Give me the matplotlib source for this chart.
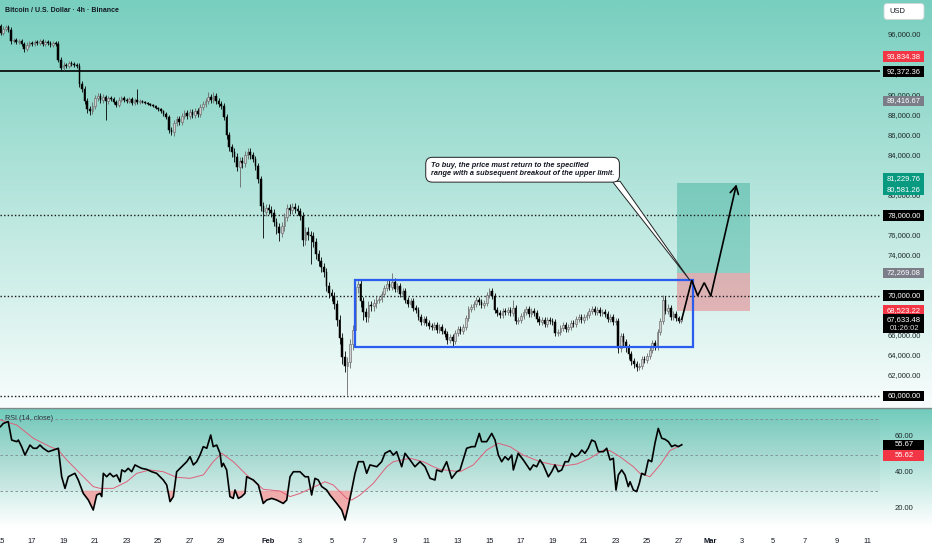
import datetime as dt
import numpy as np
import matplotlib
matplotlib.use("Agg")
import matplotlib.pyplot as plt
from matplotlib import transforms
from matplotlib.patches import Rectangle, Polygon, FancyBboxPatch

plt.rcParams['font.family'] = ['Liberation Sans', 'DejaVu Sans']

T0 = dt.datetime(2026, 1, 15)


def days(m, d, h=0):
    return (dt.datetime(2026, m, d, h) - T0).total_seconds() / 86400.0


# ---------------- data (prices in thousand USD, 4h candles from Jan 15 00:00) -------------
first_open = 96.9
closes = [
    96.2, 96.6, 96.8, 96.5, 95.4, 95.5,
    95.3, 95.4, 95.1, 94.6, 95.0, 95.2,
    95.1, 95.3, 95.2, 95.4, 95.1, 95.3,
    95.2, 95.0, 95.2, 95.1, 93.5, 92.7,
    93.0, 92.9, 93.2, 93.1, 93.0, 92.9,
    91.1, 90.6, 89.4, 88.6, 88.4, 88.9,
    89.7, 89.9, 89.5, 89.8, 89.4, 89.7,
    89.6, 89.3, 89.0, 89.5, 89.7, 89.5,
    89.4, 89.6, 89.2, 89.5, 89.3, 89.4,
    89.3, 89.2, 89.1, 89.0, 88.9, 88.7,
    88.6, 88.4, 88.1, 87.8, 86.5, 86.3,
    87.2, 87.6, 87.3, 87.9, 88.2, 87.9,
    88.3, 88.0, 88.4, 88.1, 88.8, 89.1,
    89.4, 89.8, 89.5, 89.9, 89.4, 89.1,
    88.9, 87.8, 86.0, 84.8, 84.3, 83.8,
    82.8, 83.4, 83.2, 84.0, 84.3, 84.0,
    83.6, 82.9, 81.6, 78.9, 78.3, 78.7,
    78.5, 78.2, 77.3, 76.8, 76.3, 76.9,
    77.8, 78.7, 78.5, 78.8, 78.6, 78.4,
    77.9, 75.6, 76.4, 76.1, 76.0, 75.4,
    74.2, 73.5, 72.9, 72.4, 71.0, 70.3,
    70.0, 69.2, 67.6, 65.8, 63.9, 63.0,
    63.4, 65.2, 66.6, 70.9, 71.2, 69.5,
    68.4, 67.9, 69.1, 69.0, 69.3, 69.6,
    69.7, 70.2, 70.8, 71.2, 70.9, 71.4,
    70.7, 71.0, 70.2, 70.5, 69.6, 69.2,
    69.5, 68.8, 68.6, 67.9, 67.4, 67.7,
    67.3, 67.0, 66.9, 67.1, 66.6, 66.9,
    66.5, 66.2, 65.6, 65.9, 65.5, 66.3,
    66.7, 66.5, 66.9, 67.8, 68.7, 68.9,
    69.2, 69.6, 69.4, 69.1, 69.3, 70.1,
    70.5, 70.0, 68.6, 68.3, 68.1, 68.5,
    68.4, 68.6, 68.3, 68.8, 67.5, 67.6,
    68.0, 68.4, 68.7, 68.2, 68.5, 68.3,
    67.7, 67.4, 67.6, 67.2, 67.6, 67.5,
    67.4, 66.3, 66.4, 66.8, 67.1, 66.7,
    66.9, 67.3, 67.2, 67.7, 67.9, 67.6,
    67.9, 68.1, 68.5, 68.7, 68.4, 68.6,
    68.3, 68.4, 68.2, 67.7, 67.9, 67.4,
    67.5, 64.8, 66.0, 65.4, 64.9, 64.2,
    63.5, 63.2, 62.9, 63.0, 63.7, 63.6,
    64.0, 64.6, 65.3, 64.9, 66.4, 67.5,
    69.6, 68.5, 68.8, 67.9, 68.2, 67.8,
    67.5, 67.63348,
]
wick_up = [
    .2, .3, .2, .2, .3, .2,
    .2, .2, .2, .2, .3, .2,
    .2, .2, .2, .2, .2, .2,
    .2, .2, .2, .2, .3, .3,
    .3, .2, .2, .2, .2, .2,
    .3, .3, .3, .3, .3, .4,
    .3, .3, .3, .3, .2, .2,
    .2, .2, .2, .3, .2, .2,
    .2, .2, .2, .2, 1.1, .2,
    .1, .1, .1, .1, .1, .1,
    .1, .1, .1, .2, .2, .3,
    .3, .3, .3, .3, .3, .3,
    .3, .3, .3, .3, .3, .3,
    .3, .5, .3, .4, .3, .3,
    .3, .3, .3, .3, .3, .4,
    .4, .4, .4, .4, .4, .4,
    .3, .3, .3, .3, .4, .4,
    .4, .4, .4, .4, .4, .4,
    .4, .4, .4, .4, .4, .4,
    .3, .4, .4, .4, .4, .4,
    .4, .4, .4, .4, .4, .4,
    .4, .4, .4, .5, .5, .6,
    .5, .5, .5, .6, .5, .5,
    .4, .4, .4, .4, .4, .4,
    .3, .3, .3, .4, .4, .9,
    .4, .3, .3, .3, .3, .3,
    .3, .3, .3, .3, .3, .3,
    .3, .3, .3, .3, .3, .3,
    .3, .3, .3, .3, .3, .3,
    .3, .3, .3, .3, .3, .3,
    .3, .3, .3, .3, .3, .3,
    .3, .3, .3, .3, .3, .3,
    .3, .3, .3, .8, .3, .3,
    .3, .3, .3, .3, .3, .3,
    .3, .3, .3, .3, .3, .3,
    .3, .3, .3, .3, .3, .3,
    .3, .3, .3, .3, .3, .3,
    .3, .3, .3, .3, .3, .3,
    .3, .3, .3, .3, .3, .3,
    .3, .3, .3, .3, .3, .3,
    .3, .3, .3, .3, .3, .3,
    .3, .3, .3, .3, .3, .3,
    .5, .4, .4, .3, .3, .3,
    .2, .2,
]
wick_dn = [
    .2, .2, .2, .2, .3, .2,
    .2, .2, .2, .3, .2, .2,
    .2, .2, .2, .2, .2, .2,
    .2, .2, .2, .2, .2, .2,
    .2, .2, .2, .2, .2, .2,
    .3, .3, .3, .4, .4, .3,
    .3, .3, .3, .3, 1.9, .3,
    .2, .2, .2, .2, .2, .2,
    .2, .2, .2, .2, .2, .2,
    .1, .1, .1, .1, .1, .1,
    .2, .2, .2, .2, .3, .3,
    .4, .3, .3, .3, .3, .3,
    .3, .3, .3, .3, .3, .3,
    .3, .3, .3, .3, .3, .3,
    .3, .3, .4, .4, .5, .5,
    .4, 2.0, .5, .4, .4, .4,
    .3, .4, .4, .5, 2.5, .4,
    .4, .4, .4, .6, .8, .4,
    .4, .4, .4, .4, .4, .4,
    .4, .6, .5, .5, 2.8, .5,
    .5, .5, .5, .5, .5, .5,
    .5, .5, .6, .6, .7, .6,
    2.9, .6, .6, .6, .6, .6,
    .8, .5, .5, .5, .5, .5,
    .3, .3, .3, .3, .3, .3,
    .3, .3, .3, .3, .3, .3,
    .3, .3, .3, .3, .3, .3,
    .3, .3, .3, .3, .3, .3,
    .3, .3, .4, .3, .5, .3,
    .3, .3, .3, .3, .3, .3,
    .3, .3, .3, .3, .3, .3,
    .3, .3, .3, .3, .3, .3,
    .3, .3, .3, .3, .3, .3,
    .3, .3, .3, .3, .3, .3,
    .3, .3, .3, .3, .3, .3,
    .3, .3, .3, .3, .3, .3,
    .3, .3, .3, .3, .3, .3,
    .3, .3, .3, .3, .3, .3,
    .3, .3, .3, .3, .3, .3,
    .3, .5, .4, .4, .5, .5,
    .4, .4, .4, .3, .3, .3,
    .3, .3, .3, .3, .3, .3,
    .3, .3, .3, .3, .3, .3,
    .2, .2,
]

rsi_t = [0.0, 0.18, 0.49, 0.71, 1.03, 1.13, 1.34, 1.55, 1.87, 2.08, 2.30, 2.50, 2.71, 3.03,
         3.35, 3.67, 3.88, 4.09, 4.30, 4.51, 4.72, 4.93, 5.25, 5.57, 5.88, 6.10, 6.31, 6.42,
         6.52, 6.73, 6.94, 7.15, 7.37, 7.58, 7.69, 7.89, 8.10, 8.32, 8.53, 8.74, 8.95, 9.27,
         9.59, 9.90, 10.32, 10.54, 10.75, 10.96, 11.17, 11.49, 11.81, 12.02, 12.23, 12.44,
         12.65, 12.86, 13.08, 13.33, 13.49, 13.71, 13.92, 14.03, 14.13, 14.34, 14.55, 14.76,
         14.87, 15.08, 15.29, 15.50, 15.61, 15.82, 16.03, 16.35, 16.66, 16.88, 17.20, 17.51,
         17.93, 18.15, 18.36, 18.57, 18.99, 19.31, 19.52, 19.73, 19.94, 20.15, 20.37, 20.68,
         20.89, 21.32, 21.64, 21.85, 22.05, 22.27, 22.48, 22.69, 23.01, 23.22, 23.43, 23.86,
         24.17, 24.38, 24.70, 24.91, 25.12, 25.44, 25.65, 25.97, 26.28, 26.60, 26.92, 27.24,
         27.55, 27.66, 27.98, 28.29, 28.61, 28.93, 29.14, 29.56, 29.88, 30.09, 30.36, 30.51,
         30.83, 31.15, 31.36, 31.57, 31.78, 31.99, 32.20, 32.42, 32.52, 32.83, 33.15, 33.58,
         33.79, 34.00, 34.21, 34.42, 34.74, 34.95, 35.16, 35.37, 35.59, 35.80, 36.01, 36.22,
         36.43, 36.64, 36.86, 37.06, 37.27, 37.49, 37.70, 37.91, 38.23, 38.44, 38.65, 38.86,
         39.03, 39.18, 39.39, 39.60, 39.81, 39.92, 40.13, 40.34, 40.51, 40.66, 40.87, 41.08,
         41.29, 41.50, 41.71, 41.93, 42.14, 42.35, 42.56, 42.77, 42.98, 43.20]
rsi_v = [65.8, 67.6, 68.6, 58.3, 57.4, 58.3, 54.6, 49.9, 55.5, 53.7, 53.7, 55.5, 53.7, 51.8,
         52.7, 53.7, 37.8, 31.3, 37.8, 38.8, 39.7, 36.0, 28.5, 24.8, 19.2, 27.6, 28.5, 26.7,
         39.7, 37.8, 39.7, 37.8, 38.8, 35.0, 41.6, 40.6, 42.5, 40.6, 44.4, 43.4, 42.5, 41.9,
         40.6, 39.7, 36.0, 33.2, 23.9, 26.7, 40.6, 43.4, 46.2, 49.0, 44.4, 46.2, 49.9, 54.6,
         53.7, 61.1, 54.6, 55.5, 50.9, 43.4, 45.3, 41.6, 26.7, 25.7, 30.4, 25.7, 26.7, 28.5,
         37.8, 36.9, 36.0, 33.2, 22.9, 24.8, 25.7, 24.8, 22.9, 24.8, 37.8, 40.6, 40.6, 37.8,
         37.8, 27.6, 36.9, 36.0, 32.3, 30.4, 27.6, 22.9, 19.2, 13.6, 21.1, 30.4, 39.7, 46.2,
         46.2, 39.7, 44.4, 43.4, 46.2, 50.9, 52.4, 49.9, 51.8, 43.4, 50.9, 47.2, 43.4, 46.2,
         43.4, 36.9, 36.0, 41.6, 40.6, 46.2, 36.9, 40.6, 41.6, 53.7, 54.6, 54.6, 62.0, 57.4,
         57.4, 62.0, 58.3, 49.9, 46.2, 49.0, 47.2, 49.9, 41.6, 50.9, 47.2, 41.6, 44.4, 43.4,
         47.2, 44.4, 37.8, 40.6, 44.4, 40.6, 41.6, 46.2, 46.2, 50.9, 49.0, 49.9, 52.7, 50.9,
         53.7, 58.3, 57.4, 51.8, 51.8, 53.7, 47.2, 48.1, 30.4, 38.8, 41.6, 38.8, 32.3, 35.0,
         30.4, 29.5, 34.1, 39.7, 38.8, 47.2, 46.2, 56.5, 64.8, 59.3, 58.7, 57.4, 54.6, 55.5,
         54.6, 55.67]
ma_t = [0.0, 1.03, 2.08, 3.14, 3.67, 4.20, 5.04, 5.88, 6.31, 7.15, 8.00, 8.64, 9.48, 10.32,
        11.17, 12.02, 12.86, 13.49, 14.03, 14.76, 15.61, 16.66, 17.72, 18.36, 18.99, 19.84,
        20.58, 21.10, 21.95, 22.27, 22.80, 23.64, 24.49, 24.91, 25.97, 26.81, 27.45, 27.87,
        29.14, 29.98, 30.83, 31.57, 32.31, 33.15, 34.21, 34.85, 35.69, 36.54, 37.38, 38.23,
        38.65, 39.28, 40.13, 40.55, 41.18, 41.82, 42.45, 43.20]
ma_v = [69.5, 66.7, 59.3, 54.6, 52.7, 47.2, 39.7, 32.3, 31.3, 31.3, 35.0, 39.7, 41.6, 40.6,
        37.5, 36.9, 38.8, 46.2, 50.9, 46.2, 38.8, 30.8, 29.8, 26.7, 28.5, 31.9, 35.0, 33.2,
        25.7, 24.8, 27.6, 34.1, 43.4, 46.2, 48.1, 46.2, 43.4, 41.9, 40.6, 44.4, 52.7, 56.5,
        54.6, 49.9, 46.2, 44.9, 43.8, 44.9, 48.1, 52.7, 52.4, 49.0, 43.4, 39.7, 37.8, 44.4,
        52.4, 55.62]

# drawings
level_lines = [78000, 70000, 60000]
resistance = 92372.36
range_top, range_bot = 71600, 64850
range_t = [days(2, 6, 12), days(2, 27, 22)]
entry, stop, target = 72269.08, 68523.22, 81229.76
pos_t = [days(2, 26, 22), days(3, 3, 13)]
arrow_t = [43.20, days(2, 27, 20), days(2, 28, 5), days(2, 28, 15), days(3, 1, 1), days(3, 2, 16)]
arrow_p = [67633.48, 71550, 70000, 71300, 70000, 81100]
note = "To buy, the price must return to the specified\nrange with a subsequent breakout of the upper limit."
note_t, note_p = days(2, 11, 7), 82560
tail_t = [days(2, 22, 19), days(2, 23, 7), days(2, 27, 17)]
tail_p = [81400, 81400, 71550]

price_ticks = [96000, 94000, 92000, 90000, 88000, 86000, 84000, 82000, 80000,
               76000, 74000, 66000, 64000, 62000]
tick_dates = [(1, 15), (1, 17), (1, 19), (1, 21), (1, 23), (1, 25), (1, 27), (1, 29),
              (2, 1), (2, 3), (2, 5), (2, 7), (2, 9), (2, 11), (2, 13), (2, 15), (2, 17),
              (2, 19), (2, 21), (2, 23), (2, 25), (2, 27), (3, 1), (3, 3), (3, 5), (3, 7),
              (3, 9), (3, 11)]

# ---------------- figure layout -------------------------------------------------------
W, H = 932, 550
fig = plt.figure(figsize=(W / 100, H / 100), dpi=100)
PLOT_R = 880
MAIN_B, RSI_T, RSI_B = 407, 408, 527

bg = fig.add_axes([0, 0, 1, 1], zorder=0)
bg.set_xlim(0, W)
bg.set_ylim(H, 0)
bg.axis('off')


def grad(top, bot, n=256):
    a = np.array(top) / 255.0
    b = np.array(bot) / 255.0
    f = np.linspace(0, 1, n)[:, None]
    return (a + (b - a) * f)[:, None, :]


bg.imshow(grad((120, 207, 191), (248, 253, 252)), extent=[0, W, MAIN_B, 0], aspect='auto', zorder=0)
bg.imshow(grad((112, 203, 187), (255, 255, 255)), extent=[0, W, RSI_B, RSI_T], aspect='auto', zorder=0)
bg.add_patch(Rectangle((0, RSI_B), W, H - RSI_B, color='white', zorder=0))
bg.plot([0, W], [MAIN_B + 0.5, MAIN_B + 0.5], color='#7d8a88', lw=1.0, zorder=1)

ax = fig.add_axes([0, 1 - MAIN_B / H, PLOT_R / W, MAIN_B / H], zorder=2)
ax2 = fig.add_axes([0, 1 - RSI_B / H, PLOT_R / W, (RSI_B - RSI_T) / H], zorder=2)
for a in (ax, ax2):
    a.set_facecolor('none')
    for s in a.spines.values():
        s.set_visible(False)
    a.set_xticks([])
    a.set_yticks([])

px_per_day = 15.77
x0 = -0.5 / px_per_day
x1 = x0 + PLOT_R / px_per_day
ax.set_xlim(x0, x1)
ax2.set_xlim(x0, x1)
px_per_k = 10.03
ylo = 60000 - (MAIN_B - 396) / px_per_k * 1000
yhi = 60000 + 396 / px_per_k * 1000
ax.set_ylim(ylo, yhi)
rsi_px = 1.79
ax2.set_ylim(60 - (RSI_B - 437) / rsi_px, 60 + (437 - RSI_T) / rsi_px)

# ---------------- candles -------------------------------------------------------------
c = np.array(closes) * 1000
o = np.concatenate([[first_open * 1000], c[:-1]])
hi = np.maximum(o, c) + np.array(wick_up) * 1000
lo = np.minimum(o, c) - np.array(wick_dn) * 1000
t = np.arange(len(c)) / 6.0
up = c >= o
ax.vlines(t[up], lo[up], hi[up], color='#6a6a6a', lw=0.6, zorder=4)
ax.vlines(t[~up], lo[~up], hi[~up], color='#000000', lw=0.6, zorder=4)
body_h = np.maximum(np.abs(c - o), 60)
ax.bar(t[up], body_h[up], bottom=np.minimum(o, c)[up], width=0.105, color='#cfcfcf',
       edgecolor='#6a6a6a', lw=0.45, zorder=5)
ax.bar(t[~up], body_h[~up], bottom=np.minimum(o, c)[~up], width=0.105, color='#000000',
       edgecolor='#000000', lw=0.35, zorder=5)

# ---------------- levels and drawings --------------------------------------------------
ax.axhline(resistance, color='#000000', lw=1.2, zorder=3)
for lv in level_lines:
    ax.axhline(lv, color='#1a1a1a', lw=1.0, ls=(0, (1, 1.6)), zorder=3)

ax.add_patch(Rectangle((range_t[0], range_bot), range_t[1] - range_t[0], range_top - range_bot,
                       fill=False, edgecolor='#2b5cf0', lw=1.6, zorder=6))
ax.add_patch(Rectangle((pos_t[0], entry), pos_t[1] - pos_t[0], target - entry,
                       facecolor='#089981', alpha=0.33, lw=0, zorder=2))
ax.add_patch(Rectangle((pos_t[0], stop), pos_t[1] - pos_t[0], entry - stop,
                       facecolor='#f23645', alpha=0.33, lw=0, zorder=2))

ax.plot(arrow_t[:-1], arrow_p[:-1], color='#000000', lw=1.2, zorder=7, solid_joinstyle='miter')
ax.annotate('', xy=(arrow_t[-1], arrow_p[-1]), xytext=(arrow_t[-2], arrow_p[-2]),
            arrowprops=dict(arrowstyle='->,head_length=0.55,head_width=0.3', color='#000000',
                            lw=1.2, shrinkA=0, shrinkB=0), zorder=7)

ax.add_patch(Polygon(list(zip(tail_t, tail_p)), closed=True, facecolor='white',
                     edgecolor='#222222', lw=0.7, zorder=8))
ax.text(note_t, note_p, note, fontsize=5.3, fontweight='bold', fontstyle='italic',
        color='#131722', ha='left', va='center', linespacing=1.1, zorder=9,
        bbox=dict(boxstyle='round,pad=0.7,rounding_size=0.9', facecolor='white',
                  edgecolor='#222222', lw=0.7))

# ---------------- RSI pane --------------------------------------------------------------
ax2.axhspan(30, 70, color='#7a7a8a', alpha=0.05, lw=0, zorder=1)
for lv in (70, 50, 30):
    ax2.axhline(lv, color='#7f8a8c', lw=0.6, ls=(0, (3, 3)), zorder=2)
rt = np.array(rsi_t)
rv = np.array(rsi_v)
ax2.fill_between(rt, rv, 30, where=rv < 30, interpolate=True, color='#f4a0a0', alpha=0.85,
                 lw=0, zorder=3)
ax2.plot(ma_t, ma_v, color='#e0607a', lw=0.7, zorder=4)
ax2.plot(rt, rv, color='#000000', lw=1.2, zorder=5)

# ---------------- right-hand price scale ----------------------------------------------
trP = transforms.blended_transform_factory(bg.transData, ax.transData)
trR = transforms.blended_transform_factory(bg.transData, ax2.transData)
LBL_X0, LBL_W, LBL_CX = 883, 41, 904
FS = 5.5


def plain(tr, val, txt):
    bg.text(LBL_CX, val, txt, transform=tr, fontsize=FS, color='#1f2a2a', ha='center',
            va='center', zorder=3)


def boxed(tr, val, txt, color, ppu, off_px=0.0, h_px=10.5, txt2=None):
    v = val - off_px / ppu
    if txt2 is None:
        bg.add_patch(Rectangle((LBL_X0, v - h_px / 2 / ppu), LBL_W, h_px / ppu, transform=tr,
                               facecolor=color, lw=0, zorder=4))
        bg.text(LBL_CX, v, txt, transform=tr, fontsize=FS, color='white', ha='center',
                va='center', zorder=5)
    else:
        top = v + 5 / ppu
        bg.add_patch(Rectangle((LBL_X0, top - 18.5 / ppu), LBL_W, 18.5 / ppu, transform=tr,
                               facecolor=color, lw=0, zorder=4))
        bg.text(LBL_CX, v, txt, transform=tr, fontsize=FS, color='white', ha='center',
                va='center', zorder=5)
        bg.text(LBL_CX, v - 9 / ppu, txt2, transform=tr, fontsize=FS, color='#d8d8d8',
                ha='center', va='center', zorder=5)


ppk = px_per_k / 1000.0
for p in price_ticks:
    plain(trP, p, f"{p:,.2f}")
boxed(trP, 93834.38, "93,834.38", '#f23645', ppk)
boxed(trP, resistance, "92,372.36", '#000000', ppk)
boxed(trP, 89416.67, "89,416.67", '#7b7e88', ppk)
boxed(trP, target, "81,229.76", '#089981', ppk, off_px=-4.5, h_px=11)
boxed(trP, 80581.26, "80,581.26", '#089981', ppk, off_px=0.0, h_px=11)
for lv in level_lines:
    boxed(trP, lv, f"{lv:,.2f}", '#000000', ppk)
boxed(trP, entry, "72,269.08", '#7b7e88', ppk)
boxed(trP, stop, "68,523.22", '#f23645', ppk)
boxed(trP, closes[-1] * 1000, f"{closes[-1] * 1000:,.2f}", '#000000', ppk, txt2="01:26:02")

for r in (60, 40, 20):
    plain(trR, r, f"{r:.2f}")
boxed(trR, rsi_v[-1], f"{rsi_v[-1]:.2f}", '#000000', rsi_px)
boxed(trR, ma_v[-1], f"{ma_v[-1]:.2f}", '#f23645', rsi_px, off_px=10.5)

bg.add_patch(FancyBboxPatch((884, 3.5), 40, 16, boxstyle='round,pad=0,rounding_size=3',
                            facecolor='white', edgecolor='#d0d6d6', lw=0.6, zorder=4))
bg.text(889, 11.5, "USD", fontsize=5.4, color='#131722', ha='left', va='center', zorder=5)

# ---------------- titles and time axis -------------------------------------------------
bg.text(5, 10, "Bitcoin / U.S. Dollar · 4h · Binance", fontsize=5.0, fontweight='bold',
        color='#131722', ha='left', va='center', zorder=5)
bg.text(5, 418.5, "RSI (14, close)", fontsize=5.2, color='#2a2e39', ha='left', va='center',
        zorder=5)

trX = transforms.blended_transform_factory(ax2.transData, bg.transData)
for m, d in tick_dates:
    if d == 1:
        lab, wgt = ('Feb' if m == 2 else 'Mar'), 'bold'
    else:
        lab, wgt = str(d), 'normal'
    bg.text(days(m, d), 541.5, lab, transform=trX, fontsize=5.4, fontweight=wgt,
            color='#131722', ha='center', va='center', zorder=5)

fig.savefig("out.png", dpi=100)
